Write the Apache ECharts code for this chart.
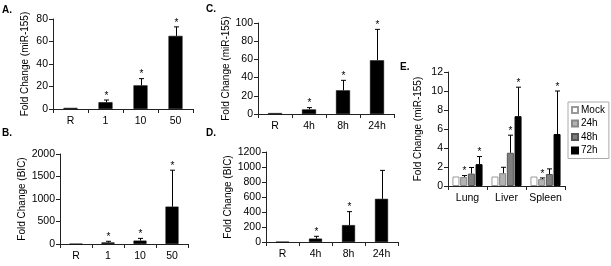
<!DOCTYPE html>
<html><head><meta charset="utf-8">
<script src="https://cdn.jsdelivr.net/npm/echarts@6/dist/echarts.min.js"></script>
<style>html,body{margin:0;padding:0;background:#fff}#c{width:611px;height:266px}</style>
</head><body><div id="c"></div>
<script>
// Panel A: miR-155 by dose
const catsA = ['R', '1', '10', '50'];
const valsA = [1, 6, 21, 65];
const errA = [null, 8, 27, 73];
const starA = [0, 1, 1, 1];
// Panel B: BIC by dose
const catsB = ['R', '1', '10', '50'];
const valsB = [1, 35, 75, 830];
const errB = [null, 60, 125, 1640];
const starB = [0, 1, 1, 1];
// Panel C: miR-155 by time
const catsC = ['R', '4h', '8h', '24h'];
const valsC = [1, 5, 26, 59];
const errC = [null, 7, 37, 93];
const starC = [0, 1, 1, 1];
// Panel D: BIC by time
const catsD = ['R', '4h', '8h', '24h'];
const valsD = [1, 45, 225, 575];
const errD = [null, 76, 405, 955];
const starD = [0, 1, 1, 0];
// Panel E: miR-155 in tissues
const catsE = ['Lung', 'Liver', 'Spleen'];
const seriesE = ['Mock', '24h', '48h', '72h'];
const mockE = [1.0, 1.0, 1.0];
const h24E = [0.95, 1.35, 0.72];
const h48E = [1.3, 3.5, 1.26];
const h72E = [2.3, 7.35, 5.47];
const h24ErrE = [1.1, 1.97, 0.85];
const h48ErrE = [1.95, 5.35, 1.8];
const h72ErrE = [3.1, 10.4, 10.0];
const h24StarE = [1, 0, 1];
const h48StarE = [0, 1, 0];
const h72StarE = [1, 1, 1];
const panelLabels = ['A.', 'B.', 'C.', 'D.', 'E.'];

const FONT = 'Liberation Sans, Arial, sans-serif';
const AXC = '#222';

function errSeries(gi, vals, errs, stars, offset) {
  const data = [];
  vals.forEach((v, i) => { data.push([i, v, errs[i] == null ? v : errs[i], stars[i]]); });
  return {
    type: 'custom', xAxisIndex: gi, yAxisIndex: gi, z: 5,
    data: data,
    renderItem: function (params, api) {
      const x = api.value(0), v = api.value(1), e = api.value(2), s = api.value(3);
      const p0 = api.coord([x, v]), p1 = api.coord([x, e]);
      const cx = Math.round(p0[0] + (offset || 0)) + 0.5;
      const ch = [];
      if (e > v) {
        ch.push({ type: 'line', shape: { x1: cx, y1: p0[1], x2: cx, y2: p1[1] }, style: { stroke: '#000', lineWidth: 1 } });
        ch.push({ type: 'line', shape: { x1: cx - 2.5, y1: p1[1], x2: cx + 2.5, y2: p1[1] }, style: { stroke: '#000', lineWidth: 1 } });
      }
      if (s) {
        ch.push({ type: 'text', x: cx, y: p1[1] + 1, style: { text: '*', fill: '#000', font: '10px ' + FONT, align: 'center', verticalAlign: 'bottom' } });
      }
      return { type: 'group', children: ch };
    }
  };
}

const grids = [
  { left: 53, top: 19, width: 140, height: 90 },
  { left: 60, top: 154, width: 128, height: 90 },
  { left: 258, top: 23, width: 136, height: 91 },
  { left: 266, top: 152, width: 132, height: 90 },
  { left: 448, top: 72, width: 117, height: 114 }
];
const cats = [catsA, catsB, catsC, catsD, catsE];
const yCfg = [
  { max: 80, interval: 20, name: 'Fold Change (miR-155)', gap: 23 },
  { max: 2000, interval: 500, name: 'Fold Change (BIC)', gap: 32 },
  { max: 100, interval: 20, name: 'Fold Change (miR-155)', gap: 25 },
  { max: 1200, interval: 200, name: 'Fold Change (BIC)', gap: 33 },
  { max: 12, interval: 2, name: 'Fold Change (miR-155)', gap: 25 }
];

const xAxes = cats.map((c, i) => ({
  type: 'category', gridIndex: i, data: c,
  axisLine: { lineStyle: { color: AXC, width: 1 } },
  axisTick: { show: true, length: 4, inside: false, lineStyle: { color: AXC } },
  axisLabel: { color: '#000', fontSize: 10.5, fontFamily: FONT, margin: 7, interval: 0 },
  splitLine: { show: false }
}));
const yAxes = yCfg.map((y, i) => ({
  type: 'value', gridIndex: i, min: 0, max: y.max, interval: y.interval,
  name: y.name, nameLocation: 'middle', nameRotate: 90, nameGap: y.gap,
  nameTextStyle: { color: '#000', fontSize: 10, fontFamily: FONT },
  axisLine: { show: true, lineStyle: { color: AXC, width: 1 } },
  axisTick: { show: true, length: 4, lineStyle: { color: AXC } },
  axisLabel: { color: '#000', fontSize: 10.5, fontFamily: FONT, margin: 5, formatter: v => String(v) },
  splitLine: { show: false }
}));

const blackBar = { color: '#000', borderColor: '#000', borderWidth: 0.5 };
const series = [];
[[valsA, errA, starA], [valsB, errB, starB], [valsC, errC, starC], [valsD, errD, starD]].forEach((d, gi) => {
  series.push({ type: 'bar', xAxisIndex: gi, yAxisIndex: gi, data: d[0], barWidth: gi % 2 === 0 ? 14 : 13, itemStyle: blackBar, silent: true });
  series.push(errSeries(gi, d[0], d[1], d[2], 0));
});
const eVals = [mockE, h24E, h48E, h72E];
const eColors = ['#ffffff', '#b3b3b3', '#7f7f7f', '#000000'];
const eBorders = ['#999999', '#888888', '#555555', '#000000'];
const eErrs = [null, h24ErrE, h48ErrE, h72ErrE];
const eStars = [null, h24StarE, h48StarE, h72StarE];
const BW = 7, GAPE = 0.7;
seriesE.forEach((name, k) => {
  series.push({ type: 'bar', name: name, xAxisIndex: 4, yAxisIndex: 4, data: eVals[k], barWidth: BW, barGap: '10%',
    itemStyle: { color: eColors[k], borderColor: eBorders[k], borderWidth: 1 }, silent: true });
});
seriesE.forEach((name, k) => {
  if (eErrs[k]) series.push(errSeries(4, eVals[k], eErrs[k], eStars[k], (k - 1.5) * (BW + GAPE)));
});

const graphic = [
  { l: 2, t: 5 }, { l: 2, t: 128 }, { l: 206, t: 4 }, { l: 206, t: 128 }, { l: 400, t: 62 }
].map((p, i) => ({ type: 'text', left: p.l, top: p.t, style: { text: panelLabels[i], font: 'bold 10px ' + FONT, fill: '#000' } }));

const chart = echarts.init(document.getElementById('c'), null, { renderer: 'canvas' });
chart.setOption({
  animation: false,
  backgroundColor: '#fff',
  grid: grids,
  xAxis: xAxes,
  yAxis: yAxes,
  legend: {
    data: seriesE.map(n => ({ name: n, icon: 'rect' })), orient: 'vertical', left: 568, top: 102,
    itemWidth: 6, itemHeight: 6, itemGap: 1.5,
    borderColor: '#aaa', borderWidth: 1, padding: [2, 4, 2, 3],
    textStyle: { fontSize: 10, fontFamily: FONT, color: '#000', lineHeight: 12, padding: [0, 0, 0, -2] },
    selectedMode: false
  },
  graphic: graphic,
  series: series
});
</script></body></html>
